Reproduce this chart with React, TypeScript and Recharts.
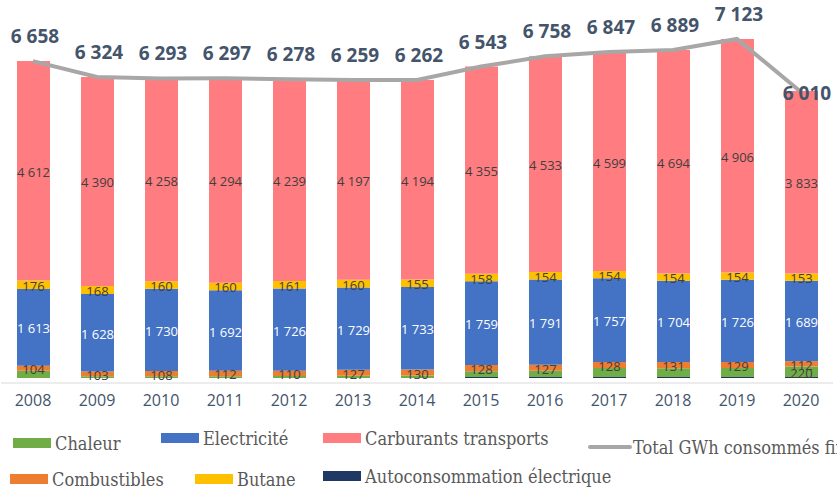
import { ComposedChart, Bar, Line, XAxis, YAxis, LabelList, Legend } from "recharts";

const years = ["2008", "2009", "2010", "2011", "2012", "2013", "2014", "2015", "2016", "2017", "2018", "2019", "2020"];
const autoconsommation = [0, 0, 0, 0, 0, 0, 0, 20, 20, 20, 20, 20, 20];
const chaleur = [153, 35, 37, 39, 42, 46, 50, 123, 133, 189, 186, 188, 220];
const combustibles = [104, 103, 108, 112, 110, 127, 130, 128, 127, 128, 131, 129, 112];
const electricite = [1613, 1628, 1730, 1692, 1726, 1729, 1733, 1759, 1791, 1757, 1704, 1726, 1689];
const butane = [176, 168, 160, 160, 161, 160, 155, 158, 154, 154, 154, 154, 153];
const carburants = [4612, 4390, 4258, 4294, 4239, 4197, 4194, 4355, 4533, 4599, 4694, 4906, 3833];
const totals = [6658, 6324, 6293, 6297, 6278, 6259, 6262, 6543, 6758, 6847, 6889, 7123, 6010];

const data = years.map((year, i) => ({
  year,
  autoconsommation: autoconsommation[i],
  chaleur: chaleur[i],
  combustibles: combustibles[i],
  electricite: electricite[i],
  butane: butane[i],
  carburants: carburants[i],
  total: totals[i],
}));

const fmt = (v: any) => String(v).replace(/\B(?=(\d{3})+(?!\d))/g, " ");

const FONT = "'Open Sans', sans-serif";
const SLATE = "#44546A";

const TotalLabel = (props: any) => {
  const { x, y, value, index } = props;
  const last = index === years.length - 1;
  return (
    <text
      x={last ? x + 6 : x + 2}
      y={last ? y + 1 : y - 25}
      textAnchor="middle"
      dominantBaseline="central"
      fill={SLATE}
      fontFamily={FONT}
      fontWeight={700}
      fontSize={19}
    >
      {fmt(value)}
    </text>
  );
};

// centred label inside a stacked segment, no wrapping
const segLabel = (color: string, size = 13, onlyLast = false) => (props: any) => {
  const { x, y, width, height, value, index } = props;
  if (onlyLast && index !== years.length - 1) return null;
  return (
    <text
      x={x + width / 2}
      y={y + height / 2 + 1}
      textAnchor="middle"
      dominantBaseline="central"
      fill={color}
      fontFamily={FONT}
      fontSize={size}
    >
      {fmt(value)}
    </text>
  );
};

const legendItems = [
  { name: "Chaleur", color: "#70AD47", x: 13, y: 443, kind: "box" },
  { name: "Electricité", color: "#4472C4", x: 161, y: 438, kind: "box" },
  { name: "Carburants transports", color: "#FF7C80", x: 323, y: 438, kind: "box" },
  { name: "Total GWh consommés finaux", color: "#A9A6A6", x: 588, y: 447, kind: "line" },
  { name: "Combustibles", color: "#ED7D31", x: 10, y: 479, kind: "box" },
  { name: "Butane", color: "#FFC000", x: 195, y: 479, kind: "box" },
  { name: "Autoconsommation électrique", color: "#203864", x: 323, y: 476, kind: "box" },
];

const ChartLegend = () => (
  <div style={{ position: "relative", width: 837, height: 0 }}>
    {legendItems.map((it) => (
      <div
        key={it.name}
        style={{
          position: "absolute",
          left: it.x,
          top: it.y - 12,
          height: 24,
          display: "flex",
          alignItems: "center",
          whiteSpace: "nowrap",
          fontFamily: "'DejaVu Serif Condensed', 'DejaVu Serif', serif",
          fontSize: 18,
          color: "#595959",
        }}
      >
        <span
          style={{
            display: "inline-block",
            width: it.kind === "line" ? 44 : 38,
            height: it.kind === "line" ? 4 : 10,
            borderRadius: it.kind === "line" ? 2 : 0,
            background: it.color,
            marginRight: it.kind === "line" ? 1 : 4,
            flexShrink: 0,
          }}
        />
        {it.name}
      </div>
    ))}
  </div>
);

export default function App() {
  return (
    <div style={{ position: "absolute", left: 0, top: 0, width: 837, height: 488, overflow: "hidden", background: "#fff" }}>
      <ComposedChart width={837} height={488} data={data} margin={{ top: 10, right: 4, left: 1, bottom: 75 }} barSize={33}>
        <XAxis
          dataKey="year"
          interval={0}
          height={30}
          tickLine={false}
          tickSize={0}
          tickMargin={12}
          axisLine={{ stroke: "#D9D9D9", strokeWidth: 1 }}
          tick={{ fill: SLATE, fontSize: 16, fontFamily: FONT }}
        />
        <YAxis hide width={0} domain={[-105, 7731]} allowDataOverflow />
        <Bar dataKey="autoconsommation" name="Autoconsommation électrique" stackId="a" fill="#203864" isAnimationActive={false} />
        <Bar dataKey="chaleur" name="Chaleur" stackId="a" fill="#70AD47" isAnimationActive={false}>
          <LabelList dataKey="chaleur" content={segLabel("#404040", 13, true)} />
        </Bar>
        <Bar dataKey="combustibles" name="Combustibles" stackId="a" fill="#ED7D31" isAnimationActive={false}>
          <LabelList dataKey="combustibles" content={segLabel("#404040")} />
        </Bar>
        <Bar dataKey="electricite" name="Electricité" stackId="a" fill="#4472C4" isAnimationActive={false}>
          <LabelList dataKey="electricite" content={segLabel("#ffffff")} />
        </Bar>
        <Bar dataKey="butane" name="Butane" stackId="a" fill="#FFC000" isAnimationActive={false}>
          <LabelList dataKey="butane" content={segLabel("#404040")} />
        </Bar>
        <Bar dataKey="carburants" name="Carburants transports" stackId="a" fill="#FF7C80" isAnimationActive={false}>
          <LabelList dataKey="carburants" content={segLabel("#404040")} />
        </Bar>
        <Line
          dataKey="total"
          name="Total GWh consommés finaux"
          stroke="#A9A6A6"
          strokeWidth={4}
          dot={false}
          isAnimationActive={false}
        >
          <LabelList dataKey="total" content={TotalLabel} />
        </Line>
        <Legend content={ChartLegend} wrapperStyle={{ left: 0, top: 0, width: 837, height: 0 }} />
      </ComposedChart>
    </div>
  );
}
